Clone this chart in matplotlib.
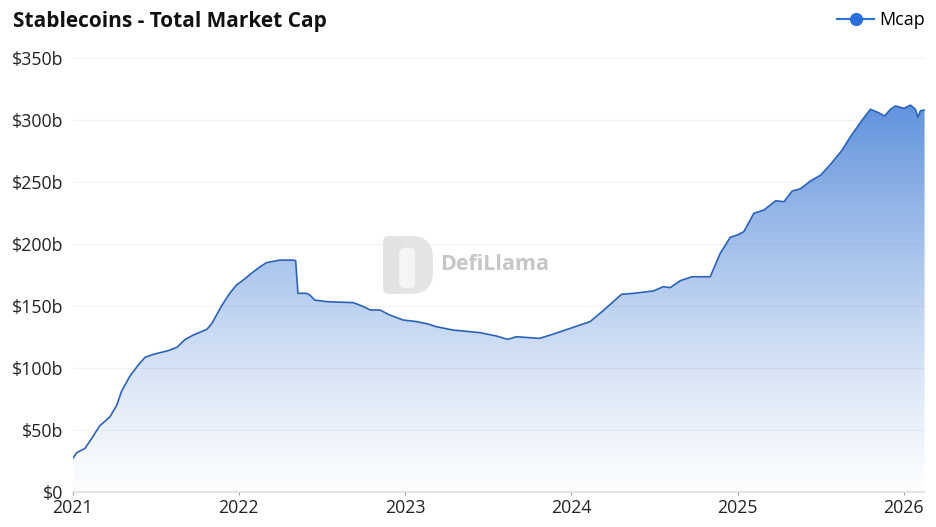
import matplotlib
matplotlib.use("Agg")
import matplotlib.pyplot as plt
import matplotlib.dates as mdates
import numpy as np
import pandas as pd
from matplotlib.lines import Line2D
from matplotlib.patches import FancyBboxPatch

plt.rcParams['font.family'] = ['Open Sans', 'DejaVu Sans']

# ---- data ----
dates = [
    "2021-01-01", "2021-01-10", "2021-01-28", "2021-02-12", "2021-03-01", "2021-03-24",
    "2021-04-08", "2021-04-18", "2021-05-06", "2021-05-25", "2021-06-09", "2021-06-27",
    "2021-07-30", "2021-08-18", "2021-09-05", "2021-09-23", "2021-10-23", "2021-11-03",
    "2021-11-07", "2021-11-24", "2021-12-12", "2021-12-27", "2022-01-11", "2022-01-29",
    "2022-02-17", "2022-03-03", "2022-04-01", "2022-04-30", "2022-05-06", "2022-05-11",
    "2022-05-30", "2022-06-06", "2022-06-17", "2022-07-13", "2022-09-10", "2022-10-02",
    "2022-10-17", "2022-11-07", "2022-11-29", "2022-12-28", "2023-01-27", "2023-02-21",
    "2023-03-11", "2023-04-17", "2023-06-15", "2023-07-21", "2023-08-15", "2023-09-03",
    "2023-10-24", "2023-11-22", "2024-01-06", "2024-02-12", "2024-03-09", "2024-04-03",
    "2024-04-21", "2024-05-17", "2024-06-30", "2024-07-22", "2024-08-06", "2024-08-28",
    "2024-09-23", "2024-11-02", "2024-11-24", "2024-12-16", "2025-01-01", "2025-01-15",
    "2025-02-06", "2025-02-28", "2025-03-26", "2025-04-13", "2025-05-01", "2025-05-19",
    "2025-06-11", "2025-07-03", "2025-07-25", "2025-08-19", "2025-09-07", "2025-10-02",
    "2025-10-20", "2025-11-07", "2025-11-20", "2025-12-03", "2025-12-14", "2026-01-02",
    "2026-01-16", "2026-01-27", "2026-02-01", "2026-02-07", "2026-02-16",
]
mcap = [
    27.0, 31.7, 35.2, 43.3, 53.2, 60.7,
    70.2, 80.9, 93.0, 102.4, 108.6, 111.0,
    114.0, 116.7, 123.0, 126.6, 131.2, 136.0,
    138.7, 150.0, 160.2, 167.0, 171.0, 176.4,
    181.7, 185.0, 187.0, 187.0, 186.5, 160.2,
    160.2, 158.9, 154.8, 153.5, 152.7, 149.5,
    146.8, 146.8, 142.7, 138.7, 137.4, 135.5,
    133.3, 130.6, 128.5, 125.8, 123.1, 125.2,
    123.9, 127.2, 132.8, 137.4, 145.4, 153.5,
    159.4, 160.2, 162.1, 165.6, 164.8, 170.4,
    173.6, 173.6, 192.5, 205.4, 207.3, 210.0,
    224.8, 227.4, 234.9, 234.1, 242.7, 244.5,
    251.0, 255.6, 264.5, 275.8, 287.0, 300.0,
    308.6, 305.9, 303.2, 308.6, 311.3, 309.4,
    312.0, 308.6, 302.2, 307.5, 308.0,
]
year_ticks = ["2021", "2022", "2023", "2024", "2025", "2026"]
y_ticks = [0, 50, 100, 150, 200, 250, 300, 350]
y_tick_labels = ["$0", "$50b", "$100b", "$150b", "$200b", "$250b", "$300b", "$350b"]
series_name = "Mcap"
title = "Stablecoins - Total Market Cap"

# ---- figure ----
W, H = 936, 527
fig = plt.figure(figsize=(W / 100, H / 100), dpi=100)
ax = fig.add_axes([72.7 / W, 1 - 492 / H, (925 - 72.7) / W, (492 - 58) / H])

x = mdates.date2num(pd.to_datetime(dates))
y = np.array(mcap)
line_color = "#2c63b8"

xmin = mdates.date2num(pd.Timestamp("2021-01-01"))
xmax = mdates.date2num(pd.Timestamp("2026-02-17"))
ymax_data = y.max()

# gradient fill clipped to area under the line
poly = ax.fill_between(x, y, 0, color="none", lw=0)
n = 256
t = np.linspace(0, 1, n)
alpha = (0.02 + 0.86 * t ** 1.25)[:, None]
rgba = np.zeros((n, 1, 4))
base = np.array([0.30, 0.52, 0.85])
rgba[..., :3] = base
rgba[..., 3] = alpha
im = ax.imshow(rgba, extent=[xmin, xmax, 0, ymax_data], origin="lower",
               aspect="auto", zorder=1, interpolation="bilinear")
path = poly.get_paths()[0]
im.set_clip_path(path, transform=ax.transData)

ax.plot(x, y, color=line_color, lw=1.2, zorder=3)

ax.set_xlim(xmin, xmax)
ax.set_ylim(0, 350)

ax.set_yticks(y_ticks)
ax.set_yticklabels(y_tick_labels)
ax.set_xticks([mdates.date2num(pd.Timestamp(f"{t}-01-01")) for t in year_ticks])
ax.set_xticklabels(year_ticks)

ax.tick_params(axis="y", length=0, pad=6.5, labelsize=12.8, labelcolor="#222222")
ax.tick_params(axis="x", length=2.5, width=0.8, color="#999999", pad=2.2,
               labelsize=12.8, labelcolor="#222222")

for s in ["left", "right", "top"]:
    ax.spines[s].set_visible(False)
ax.spines["bottom"].set_color("#e0e0e0")
ax.spines["bottom"].set_linewidth(1.2)
ax.grid(axis="y", color="#f2f2f2", lw=0.8, zorder=0)
ax.set_axisbelow(True)

# title
fig.text(13 / W, 1 - 22 / H, title, fontsize=15, fontweight="bold",
         color="#111111", va="center", ha="left")

# legend
handle = Line2D([0], [0], color="#2a6fdb", lw=1.5, marker="o", markersize=8.5)
fig.legend([handle], [series_name], loc="center right",
           bbox_to_anchor=(941 / W, 1 - 20 / H), frameon=False,
           fontsize=13, handlelength=2.0, handletextpad=0.3)

# watermark
wm_ax = fig.add_axes([0, 0, 1, 1], zorder=5)
wm_ax.set_xlim(0, W)
wm_ax.set_ylim(H, 0)
wm_ax.axis("off")
wm_ax.add_patch(FancyBboxPatch((383, 236), 50, 58, boxstyle="round,pad=0,rounding_size=22",
                               fc="#e2e2e2", ec="none", alpha=0.9))
wm_ax.add_patch(FancyBboxPatch((383, 236), 20, 58, boxstyle="round,pad=0,rounding_size=6",
                               fc="#e2e2e2", ec="none", alpha=0.9))
wm_ax.add_patch(FancyBboxPatch((399, 248), 16, 40, boxstyle="round,pad=0,rounding_size=6",
                               fc="#f5f5f5", ec="none"))
wm_ax.text(440, 265, "DefiLlama", fontsize=15.5, fontweight="bold", color="#c6c6c6",
           va="center", ha="left")

fig.savefig("out.png", dpi=100)
